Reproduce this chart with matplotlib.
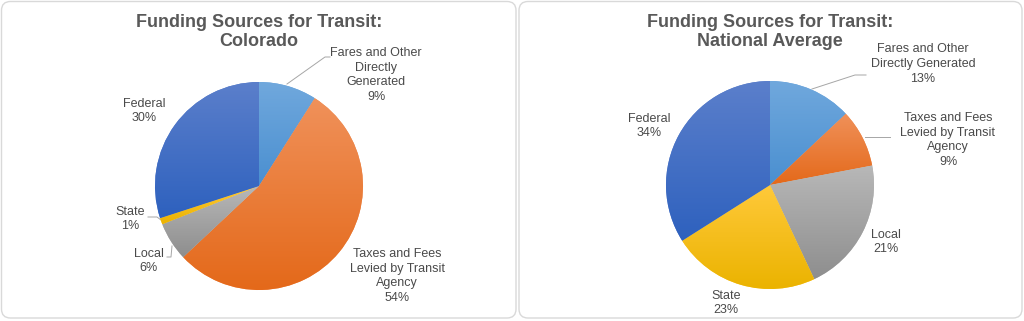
import numpy as np
import matplotlib
matplotlib.use('Agg')
import matplotlib.pyplot as plt
from matplotlib.colors import to_rgb
from matplotlib.patches import FancyBboxPatch

plt.rcParams['font.family'] = ['Liberation Sans', 'DejaVu Sans']

# data
colorado_labels = ['Fares and Other\nDirectly\nGenerated', 'Taxes and Fees\nLevied by Transit\nAgency',
                   'Local', 'State', 'Federal']
national_labels = ['Fares and Other\nDirectly Generated', 'Taxes and Fees\nLevied by Transit\nAgency',
                   'Local', 'State', 'Federal']
colorado_values = [9, 54, 6, 1, 30]
national_values = [13, 9, 21, 23, 34]
titles = ['Funding Sources for Transit:\nColorado', 'Funding Sources for Transit:\nNational Average']

# gradient colours per slice (top, bottom)
colors = [('#70a8dd', '#4a8fd0'),
          ('#f0915a', '#e4691a'),
          ('#b8b8b8', '#8e8e8e'),
          ('#ffc93a', '#ebb300'),
          ('#5b7fcb', '#2e61be')]

W, H = 1024, 321
R = 104
centers = [(259, 186), (770, 185)]

# label centres in pixels
label_pos = [
    [(376, 75), (397, 276), (149, 261), (130, 219), (144, 111)],
    [(923, 64), (948, 140), (886, 242), (726, 303), (649, 126)],
]
# leader lines in pixels
leaders = [
    [[(287, 84), (325, 57), (330, 57)],
     [(172, 246), (171, 257), (167, 257)],
     [(161, 220), (157, 217), (148, 217)]],
    [[(812, 89), (855, 75), (866, 75)],
     [(865, 137), (890, 137)]],
]

fig = plt.figure(figsize=(W / 100, H / 100), dpi=100)
bg = fig.add_axes([0, 0, 1, 1])
bg.set_xlim(0, W)
bg.set_ylim(H, 0)
bg.axis('off')

for x0, x1 in [(1.5, 516), (519, 1022)]:
    bg.add_patch(FancyBboxPatch((x0, 1.5), x1 - x0, 316.5, boxstyle='round,pad=0,rounding_size=9',
                                fc='white', ec='#d9d9d9', lw=1))

grad = np.linspace(0, 1, 128)[:, None]

for i, (vals, labs) in enumerate([(colorado_values, colorado_labels), (national_values, national_labels)]):
    cx, cy = centers[i]
    ax = fig.add_axes([(cx - R) / W, (H - cy - R) / H, 2 * R / W, 2 * R / H])
    wedges, _ = ax.pie(vals, startangle=90, counterclock=False, radius=1,
                       colors=[c[0] for c in colors], wedgeprops=dict(linewidth=0))
    for w, (ctop, cbot) in zip(wedges, colors):
        ext = w.get_path().get_extents()
        a, b = np.array(to_rgb(ctop)), np.array(to_rgb(cbot))
        img = (a[None, None, :] * (1 - grad[:, :, None]) + b[None, None, :] * grad[:, :, None])
        im = ax.imshow(img, extent=[ext.x0, ext.x1, ext.y0, ext.y1], origin='upper',
                       aspect='auto', zorder=2, interpolation='bilinear')
        im.set_clip_path(w)
    ax.set_xlim(-1, 1)
    ax.set_ylim(-1, 1)
    ax.axis('off')

    bg.text(cx, 32, titles[i], ha='center', va='center', fontsize=13, fontweight='bold',
            color='#595959', linespacing=1.22)
    for (lx, ly), lab, v in zip(label_pos[i], labs, vals):
        bg.text(lx, ly, f'{lab}\n{v}%', ha='center', va='center', fontsize=9,
                color='#4a4a4a', linespacing=1.3)
    for pts in leaders[i]:
        xs, ys = zip(*pts)
        bg.plot(xs, ys, color='#a6a6a6', lw=0.7)

fig.savefig('out.png', dpi=100)
